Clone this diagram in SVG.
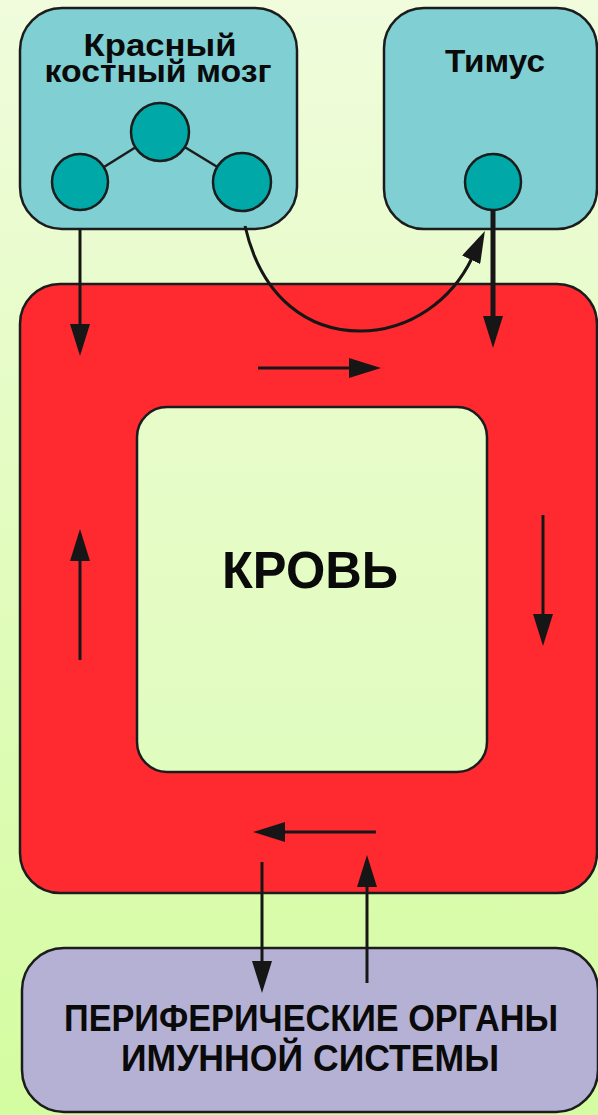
<svg xmlns="http://www.w3.org/2000/svg" width="598" height="1115" viewBox="0 0 598 1115">
  <defs>
    <linearGradient id="bg" x1="0" y1="0" x2="0" y2="1">
      <stop offset="0" stop-color="#f0fcdc"/>
      <stop offset="1" stop-color="#d4fca0"/>
    </linearGradient>
    <linearGradient id="core" x1="0" y1="0" x2="0" y2="1">
      <stop offset="0" stop-color="#e8fcca"/>
      <stop offset="1" stop-color="#e0fcbe"/>
    </linearGradient>
    <marker id="head" viewBox="0 0 32 20" markerWidth="32" markerHeight="20" markerUnits="userSpaceOnUse" refX="2" refY="10" orient="auto">
      <path d="M0,0 L32,10 L0,20 Z" fill="#161616"/>
    </marker>
    <style>
      .box { stroke: #1c1c1c; stroke-width: 2.5; }
      .organ { fill: #7fcfd3; }
      .cell { fill: #00a9a8; stroke: #1c1c1c; stroke-width: 2.5; }
      .lbl { font-family: "Liberation Sans", Arial, sans-serif; font-weight: bold; fill: #0a0a0a; text-anchor: middle; }
      .flow { fill: none; stroke: #161616; stroke-width: 3; marker-end: url(#head); }
      .thick { stroke-width: 5; }
    </style>
  </defs>

  <!-- backdrop -->
  <rect x="0" y="0" width="598" height="1115" fill="url(#bg)"/>

  <!-- red bone marrow -->
  <g id="bone-marrow">
    <rect class="box organ" x="20" y="8" width="277" height="221" rx="42"/>
    <text class="lbl" x="160" y="56" font-size="32" textLength="153" lengthAdjust="spacingAndGlyphs">Красный</text>
    <text class="lbl" x="158" y="82" font-size="32" textLength="227" lengthAdjust="spacingAndGlyphs">костный мозг</text>
    <line x1="160" y1="132" x2="80" y2="182" stroke="#1c1c1c" stroke-width="2.5"/>
    <line x1="160" y1="132" x2="242" y2="182" stroke="#1c1c1c" stroke-width="2.5"/>
    <circle class="cell" cx="160" cy="132" r="29"/>
    <circle class="cell" cx="80" cy="182" r="28"/>
    <circle class="cell" cx="242" cy="182" r="29"/>
  </g>

  <!-- thymus -->
  <g id="thymus">
    <rect class="box organ" x="384" y="8" width="213" height="221" rx="40"/>
    <text class="lbl" x="495" y="72" font-size="32" textLength="100" lengthAdjust="spacingAndGlyphs">Тимус</text>
    <circle class="cell" cx="493" cy="182" r="28"/>
  </g>

  <!-- blood ring -->
  <g id="blood">
    <rect class="box" x="20" y="284" width="577" height="609" rx="40" fill="#fe2a30"/>
    <rect class="box" x="137" y="407" width="350" height="365" rx="30" fill="url(#core)"/>
    <text class="lbl" x="310" y="588" font-size="51" textLength="176" lengthAdjust="spacingAndGlyphs">КРОВЬ</text>
  </g>

  <!-- peripheral immune organs -->
  <g id="peripheral">
    <rect class="box" x="22" y="948" width="576" height="164" rx="42" fill="#b4b1d4"/>
    <text class="lbl" x="311" y="1031" font-size="37" textLength="494" lengthAdjust="spacingAndGlyphs">ПЕРИФЕРИЧЕСКИЕ ОРГАНЫ</text>
    <text class="lbl" x="310" y="1071" font-size="37" textLength="378" lengthAdjust="spacingAndGlyphs">ИМУННОЙ СИСТЕМЫ</text>
  </g>

  <!-- connectors -->
  <g id="connectors">
    <line class="flow" x1="80" y1="228" x2="80" y2="326"/>
    <path class="flow" d="M245,226 C262,300 310,331 360,331 C410,331 452,300 472,258"/>
    <line class="flow thick" x1="493" y1="210" x2="493" y2="318"/>
    <line class="flow" x1="258" y1="368" x2="351" y2="368"/>
    <line class="flow" x1="543" y1="515" x2="543" y2="616"/>
    <line class="flow" x1="80" y1="660" x2="80" y2="559"/>
    <line class="flow" x1="376" y1="832" x2="283" y2="832"/>
    <line class="flow" x1="262" y1="862" x2="262" y2="963"/>
    <line class="flow" x1="367" y1="983" x2="367" y2="885"/>
  </g>
</svg>
